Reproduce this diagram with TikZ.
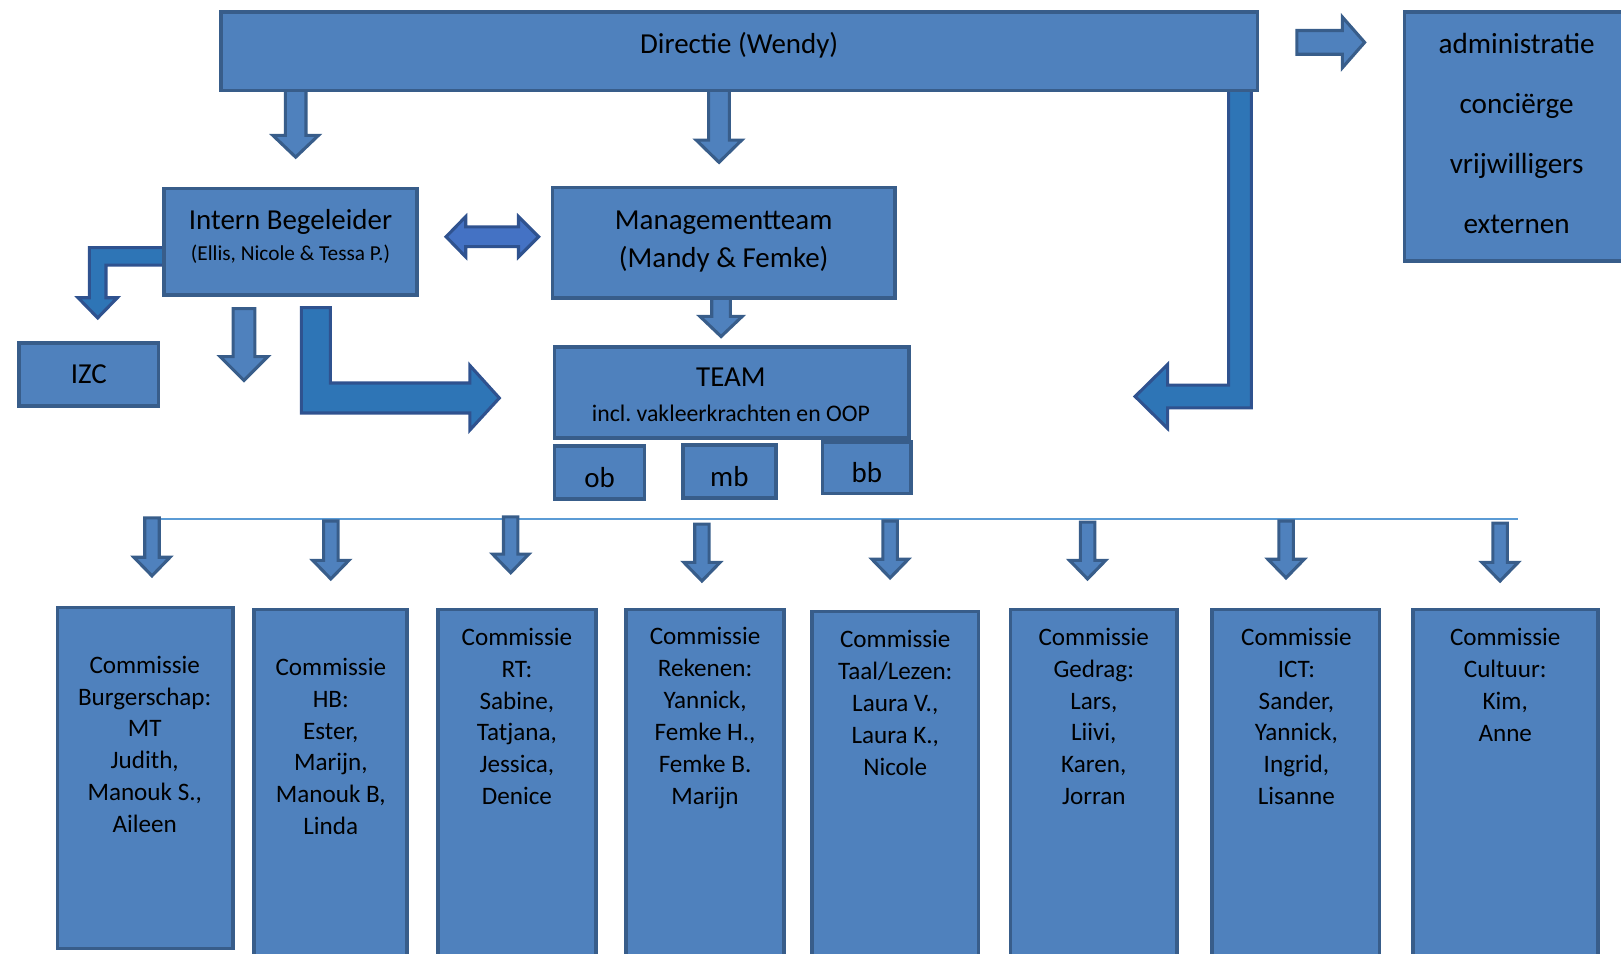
\documentclass[tikz,border=0pt]{standalone}
\usepackage{fontspec}
\setmainfont{Carlito}
\usepackage{tikz}
\frenchspacing

\definecolor{boxfill}{HTML}{4F81BD}
\definecolor{boxline}{HTML}{385D8A}
\definecolor{bentfill}{HTML}{2E75B6}
\definecolor{bentline}{HTML}{2F528F}
\definecolor{dblfill}{HTML}{4472C4}
\definecolor{thinline}{HTML}{5B9BD5}

\begin{document}
\begin{tikzpicture}[x=1pt,y=-1pt,
    box/.style={rectangle,draw=boxline,fill=boxfill,line width=3.5pt,inner sep=0pt,font=\fontsize{28}{34}\selectfont},
    big/.style={font=\fontsize{28}{34}\selectfont},
    comm/.style={font=\fontsize{24.3}{30.8}\selectfont,align=center},
    blk/.style={draw=boxline,fill=boxfill,line width=3pt},
    bent/.style={draw=bentline,fill=bentfill,line width=3pt},
    dbl/.style={draw=bentline,fill=dblfill,line width=3pt}]
\useasboundingbox (0,0) rectangle (1568,922);

% block arrows (under the boxes)
\draw[blk] (276,85) -- (296,85) -- (296,131) -- (308,131) -- (286,152) -- (264,131) -- (276,131) -- cycle;
\draw[blk] (685.5,85) -- (705.5,85) -- (705.5,135.5) -- (717.5,135.5) -- (695.5,157) -- (673.5,135.5) -- (685.5,135.5) -- cycle;
\draw[blk] (1254.5,29.5) -- (1298.5,29.5) -- (1298.5,16.5) -- (1320,41) -- (1298.5,65.5) -- (1298.5,52.5) -- (1254.5,52.5) -- cycle;
\draw[bent] (1188.5,85) -- (1210.5,85) -- (1210.5,394.5) -- (1129.5,394.5) -- (1129.5,414.5) -- (1098,383.5) -- (1129.5,352.5) -- (1129.5,372.5) -- (1188.5,372.5) -- cycle;
\draw[dbl] (431.5,229) -- (450.5,209.5) -- (450.5,219.5) -- (501.5,219.5) -- (501.5,209.5) -- (521,229) -- (501.5,248.5) -- (501.5,238.5) -- (450.5,238.5) -- (450.5,248.5) -- cycle;
\draw[bent] (162,239.5) -- (86.5,239.5) -- (86.5,288) -- (75.5,288) -- (94.5,307.5) -- (113.5,288) -- (102.5,288) -- (102.5,256.5) -- (162,256.5) -- cycle;
\draw[blk] (225.5,298.5) -- (246.5,298.5) -- (246.5,345) -- (259,345) -- (236,368) -- (213,345) -- (225.5,345) -- cycle;
\draw[bent] (291.5,297.5) -- (319.5,297.5) -- (319.5,370.5) -- (454.5,370.5) -- (454.5,353.5) -- (483,385) -- (454.5,416) -- (454.5,399.5) -- (291.5,399.5) -- cycle;
\draw[blk] (688.5,285) -- (706.5,285) -- (706.5,306) -- (718,306) -- (697.5,325.5) -- (677,306) -- (688.5,306) -- cycle;

% boxes
\node[box,minimum width=1003pt,minimum height=76pt] (dir) at (715,49.5) {};
\node[box,minimum width=218pt,minimum height=241pt] (adm) at (1467.5,132) {};
\node[box,minimum width=245pt,minimum height=103pt] (ib) at (281,234) {};
\node[box,minimum width=331pt,minimum height=107pt] (mt) at (700,235) {};
\node[box,minimum width=135pt,minimum height=61pt] (izc) at (86,362) {IZC};
\node[box,minimum width=343pt,minimum height=88pt] (team) at (708,379.5) {};
\node[box,minimum width=87pt,minimum height=51pt,text height=29pt,text depth=0pt] (ob) at (580,457) {ob};
\node[box,minimum width=90pt,minimum height=51pt,text height=29pt,text depth=0pt] (mb) at (705.5,456) {mb};
\node[box,minimum width=86pt,minimum height=50pt,text height=29pt,text depth=0pt] (bb) at (838.5,452.5) {bb};

% texts
\node[big] (dirT) at (715,43.5) {Directie (Wendy)};
\node[align=center,font=\fontsize{28.2}{58}\selectfont] (admT) at (1467,129) {administratie\\conciërge\\vrijwilligers\\externen};
\node[big] (ibT1) at (281,214.5) {Intern Begeleider};
\node[font=\fontsize{20.6}{25}\selectfont] (ibT2) at (281,245.5) {(Ellis, Nicole \& Tessa P.)};
\node[big] (mtT1) at (700,215) {Managementteam};
\node[big] (mtT2) at (700,250.5) {(Mandy \& Femke)};
\node[big] (teamT1) at (707,365) {TEAM};
\node[font=\fontsize{23}{28}\selectfont] (teamT2) at (707,399.5) {incl. vakleerkrachten en OOP};

% commissies
\coordinate (lineL) at (150,502);
\coordinate (lineR) at (1468,502);
\draw[thinline,line width=1.2pt] (lineL) -- (lineR);
\foreach \ax/\at/\ap in {147/501/557, 320/504/560, 494/500/554, 679/507/562, 861/504/559, 1052/505/560, 1244/504/559, 1451/506/562}
    \draw[blk] (\ax-7,\at) -- (\ax+7,\at) -- (\ax+7,\ap-18) -- (\ax+17.5,\ap-18) -- (\ax,\ap) -- (\ax-17.5,\ap-18) -- (\ax-7,\ap-18) -- cycle;

\node[box,minimum width=170pt,minimum height=330pt] (c1) at (140.5,752.5) {};
\node[box,minimum width=148pt,minimum height=349pt] (c2) at (319.5,764) {};
\node[box,minimum width=153pt,minimum height=349pt] (c3) at (500,764) {};
\node[box,minimum width=153pt,minimum height=349pt] (c4) at (682,764) {};
\node[box,minimum width=161pt,minimum height=347pt] (c5) at (866,765) {};
\node[box,minimum width=161pt,minimum height=349pt] (c6) at (1058,764) {};
\node[box,minimum width=162pt,minimum height=349pt] (c7) at (1253.5,764) {};
\node[box,minimum width=179pt,minimum height=349pt] (c8) at (1456,764) {};

\node[comm] (c1T) at (140,720) {Commissie\\Burgerschap:\\MT\\Judith,\\Manouk S.,\\Aileen};
\node[comm] (c2T) at (320,722) {Commissie\\HB:\\Ester,\\Marijn,\\Manouk B,\\Linda};
\node[comm] (c3T) at (500,693) {Commissie\\RT:\\Sabine,\\Tatjana,\\Jessica,\\Denice};
\node[comm] (c4T) at (682,694.5) {Commissie\\Rekenen:\\Yannick,\\Femke H.,\\Femke B.\\Marijn};
\node[comm] (c5T) at (866,680) {Commissie\\Taal/Lezen:\\Laura V.,\\Laura K.,\\Nicole};
\node[comm] (c6T) at (1058,693) {Commissie\\Gedrag:\\Lars,\\Liivi,\\Karen,\\Jorran};
\node[comm] (c7T) at (1254,693) {Commissie\\ICT:\\Sander,\\Yannick,\\Ingrid,\\Lisanne};
\node[comm] (c8T) at (1456,662.5) {Commissie\\Cultuur:\\Kim,\\Anne};
\end{tikzpicture}
\end{document}
